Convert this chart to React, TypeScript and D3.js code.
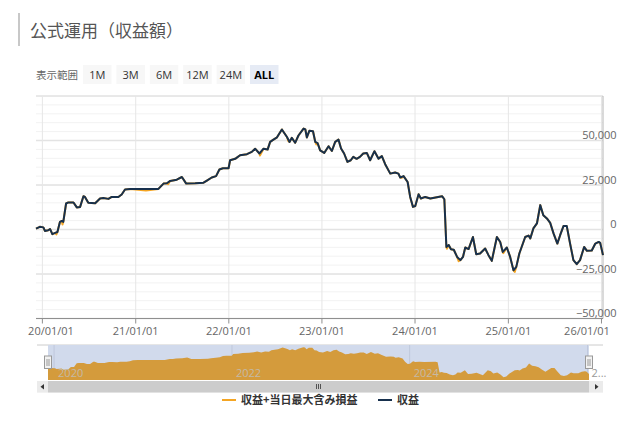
import React from "react";
import * as d3 from "d3";

const dates: string[] = [
  "2019-12-07","2019-12-22","2020-01-05","2020-01-11","2020-01-24","2020-01-31","2020-02-09","2020-02-20","2020-02-29","2020-03-10",
  "2020-03-17","2020-03-23","2020-04-03","2020-04-12","2020-05-02","2020-05-15","2020-05-28","2020-06-10","2020-06-16","2020-06-29",
  "2020-07-26","2020-08-14","2020-08-27","2020-09-16","2020-09-29","2020-10-25","2020-11-07","2020-11-20","2020-12-10","2021-03-31",
  "2021-04-20","2021-05-03","2021-05-16","2021-06-11","2021-07-01","2021-07-18","2021-08-22","2021-09-24","2021-10-07","2021-10-26",
  "2021-11-12","2021-11-25","2021-12-09","2021-12-31","2022-01-06","2022-01-26","2022-02-14","2022-03-13","2022-04-01","2022-04-14",
  "2022-05-01","2022-05-17","2022-06-02","2022-06-12","2022-06-25","2022-07-09","2022-07-28","2022-08-17","2022-08-27","2022-09-05",
  "2022-09-18","2022-10-01","2022-10-21","2022-10-28","2022-11-03","2022-11-13","2022-11-27","2022-12-06","2022-12-15","2022-12-25",
  "2023-01-10","2023-01-27","2023-02-09","2023-02-22","2023-03-07","2023-03-17","2023-03-29","2023-04-11","2023-04-24","2023-05-04",
  "2023-05-17","2023-05-30","2023-06-12","2023-06-26","2023-07-09","2023-07-26","2023-08-11","2023-08-24","2023-09-06","2023-09-26",
  "2023-10-15","2023-10-28","2023-11-04","2023-11-17","2023-12-03","2023-12-13","2023-12-24","2024-01-02","2024-01-15","2024-01-24",
  "2024-02-10","2024-03-01","2024-04-16","2024-04-25","2024-05-03","2024-05-12","2024-05-21","2024-06-01","2024-06-14","2024-06-27",
  "2024-07-07","2024-07-16","2024-07-29","2024-08-15","2024-08-28","2024-09-12","2024-10-02","2024-10-15","2024-10-28","2024-11-17",
  "2024-11-30","2024-12-10","2024-12-26","2025-01-08","2025-01-21","2025-02-01","2025-02-13","2025-03-08","2025-03-21","2025-03-28",
  "2025-04-09","2025-04-23","2025-05-06","2025-05-18","2025-06-01","2025-06-14","2025-06-27","2025-07-12","2025-07-23","2025-08-05",
  "2025-08-18","2025-08-31","2025-09-13","2025-09-26","2025-10-09","2025-10-25","2025-11-05","2025-11-24","2025-12-08","2025-12-21",
  "2025-12-27","2026-01-07",
];

const profit: number[] = [
  500,1500,1200,-800,-400,300,-2600,-1900,-1400,4300,
  4800,4300,14600,15200,15200,12400,12700,18700,18300,15000,
  14800,17400,17700,17200,18300,18300,19700,22500,22800,22800,
  25800,26000,27300,28000,29500,25800,26000,26300,27500,29200,
  30000,33700,34400,34400,38900,39700,41700,42300,43600,45400,
  42700,45400,44900,49200,50500,51800,56200,52000,49200,51500,
  48700,52800,56700,56200,51700,55500,55200,49200,48500,44500,
  43000,46800,44100,49200,50500,45500,42700,38000,38900,40800,
  39700,40800,42700,43000,38900,44000,39800,41200,36700,31400,
  32000,31400,29200,30000,26700,18300,12700,13200,19800,17400,
  18300,17400,18700,17000,-9800,-8700,-11100,-11400,-15400,-17200,
  -15400,-10100,-11000,-4200,-13900,-13500,-10700,-14400,-17600,-4200,
  -7000,-12600,-10100,-15400,-22900,-21000,-13500,-4200,-3400,-5000,
  600,3400,13700,8000,6200,3700,-2200,-7900,-3200,1900,
  1900,-7900,-17200,-19500,-17200,-9800,-12000,-11800,-7900,-7000,
  -7500,-14400,
];

// dates where 収益+当日最大含み損益 dips below 収益
const maxLossDates: string[] = ["2020-02-25","2020-03-20","2021-02-10","2021-05-08","2022-05-03","2022-08-22","2022-12-10","2023-11-10","2024-05-05","2024-06-20","2024-12-12","2025-01-26"];
const maxLossValues: number[] = [-2800,2800,21900,25500,41500,49700,47800,29000,-10800,-17800,-13300,-23800];

const yTicks: number[] = [-50000, -25000, 0, 25000, 50000, 75000];
const yLabelTicks: number[] = [-50000, -25000, 0, 25000, 50000];
const xTickYears: number[] = [2020, 2021, 2022, 2023, 2024, 2025, 2026];
const navTickYears: number[] = [2020, 2022, 2024, 2026];
const rangeButtons: string[] = ["1M", "3M", "6M", "12M", "24M", "ALL"];
const legendItems: string[] = ["収益+当日最大含み損益", "収益"];

const ORANGE = "#f4a523";
const NAVY = "#17304d";
const NUM_FONT = "'Open Sans', 'Noto Sans CJK JP', sans-serif";
const JP_FONT = "'Noto Sans CJK JP', 'Noto Sans', sans-serif";

export default function App() {
  const parse = d3.timeParse("%Y-%m-%d");
  const series = dates.map((d, i) => ({ date: parse(d) as Date, value: profit[i] }));
  const dips = maxLossDates.map((d, i) => ({ date: parse(d) as Date, value: maxLossValues[i] }));
  const orangeSeries = [...series, ...dips].sort((a, b) => +a.date - +b.date);
  const extent = d3.extent(series, (d) => d.date) as [Date, Date];

  const plotL = 36, plotR = 603, plotT = 96, plotB = 318.5;
  const x = d3.scaleTime().domain(extent).range([plotL, plotR]);
  const y = d3.scaleLinear().domain([-50000, 75000]).range([plotB, plotT]);
  const minorTicks = d3.range(-50000, 75001, 5000);

  const line = d3
    .line<{ date: Date; value: number }>()
    .x((d) => x(d.date))
    .y((d) => y(d.value));

  // navigator
  const navL = 48, navR = 589, navT = 345, navB = 380;
  const nx = d3.scaleTime().domain(extent).range([navL, navR]);
  const ny = d3.scaleLinear().domain([-30000, 57500]).range([navB, navT + 2]);
  const area = d3
    .area<{ date: Date; value: number }>()
    .x((d) => nx(d.date))
    .y0(navB)
    .y1((d) => ny(d.value));

  const fmt = d3.format(",");
  const yearDate = (yr: number) => new Date(yr, 0, 1);
  const labelHalf = 23;

  return (
    <div style={{ position: "absolute", left: 0, top: 0 }}>
      <svg width={638} height={432} style={{ display: "block", background: "#fff" }}>
        {/* title */}
        <rect x={18} y={13} width={2} height={33} fill="#c8c8c8" />
        <text x={30} y={37} fontFamily={JP_FONT} fontSize={17} fill="#555">
          公式運用（収益額）
        </text>

        {/* range selector */}
        <text x={36} y={79} fontFamily={JP_FONT} fontSize={10.5} fill="#666">
          表示範囲
        </text>
        {rangeButtons.map((b, i) => {
          const bx = 83 + i * 33.4;
          const sel = b === "ALL";
          return (
            <g key={b}>
              <rect x={bx} y={65} width={28.5} height={19} fill={sel ? "#e6ebf5" : "#f7f7f7"} />
              <text
                x={bx + 14.25}
                y={79}
                textAnchor="middle"
                fontFamily={NUM_FONT}
                fontSize={11}
                fontWeight={sel ? 700 : 400}
                fill={sel ? "#000" : "#333"}
              >
                {b}
              </text>
            </g>
          );
        })}

        {/* grid */}
        {minorTicks.map((t) => (
          <line key={"m" + t} x1={plotL} x2={plotR} y1={y(t)} y2={y(t)} stroke="#f2f2f2" strokeWidth={1} />
        ))}
        {yTicks.map((t) => (
          <line key={"M" + t} x1={plotL} x2={plotR} y1={y(t)} y2={y(t)} stroke="#e3e3e3" strokeWidth={1.5} />
        ))}
        {xTickYears.map((yr) => (
          <line
            key={"v" + yr}
            x1={x(yearDate(yr))}
            x2={x(yearDate(yr))}
            y1={plotT}
            y2={plotB}
            stroke="#e6e6e6"
            strokeWidth={1}
          />
        ))}

        {/* axes */}
        <line x1={plotR} x2={plotR} y1={plotT} y2={plotB} stroke="#b5b5b5" strokeWidth={1} />
        <line x1={plotL} x2={plotR} y1={plotB} y2={plotB} stroke="#8f8f8f" strokeWidth={1} />
        {xTickYears.map((yr) => {
          const tx = x(yearDate(yr));
          const cx = Math.min(Math.max(tx, 28 + labelHalf), 610 - labelHalf);
          return (
            <g key={"xt" + yr}>
              <line x1={tx} x2={tx} y1={plotB} y2={plotB + 5} stroke="#8f8f8f" />
              <text x={cx} y={335} textAnchor="middle" fontFamily={NUM_FONT} fontSize={11} fill="#666">
                {d3.timeFormat("%y/%m/%d")(yearDate(yr))}
              </text>
            </g>
          );
        })}
        {yLabelTicks.map((t) => (
          <text
            key={"yl" + t}
            x={616.5}
            y={y(t) - 1.5}
            textAnchor="end"
            fontFamily={NUM_FONT}
            fontSize={11}
            fill="#666"
          >
            {t === 0 ? "0" : fmt(t)}
          </text>
        ))}

        {/* series */}
        <path d={line(orangeSeries) || ""} fill="none" stroke={ORANGE} strokeWidth={2} strokeLinejoin="round" />
        <path d={line(series) || ""} fill="none" stroke={NAVY} strokeWidth={2} strokeLinejoin="round" />

        {/* navigator */}
        <line x1={37} x2={603} y1={navT} y2={navT} stroke="#cccccc" strokeWidth={1} />
        <rect x={navL} y={navT} width={navR - navL} height={navB - navT} fill="#d1daec" />
        {navTickYears.map((yr) => (
          <line
            key={"nv" + yr}
            x1={nx(yearDate(yr))}
            x2={nx(yearDate(yr))}
            y1={navT}
            y2={navB}
            stroke="#bfc8dc"
            strokeWidth={1}
          />
        ))}
        <path d={area(series) || ""} fill="#d49b3c" />
        {navTickYears.map((yr) => {
          const lx = nx(yearDate(yr)) + 4;
          const out = lx > navR;
          return (
            <text key={"nl" + yr} x={lx} y={377} fontFamily={NUM_FONT} fontSize={11} fill={out ? "#999" : "#c4b9a6"}>
              {out ? "2..." : String(yr)}
            </text>
          );
        })}
        {[navL, navR].map((hx, i) => (
          <g key={"h" + i}>
            <rect x={hx - 3.5} y={356} width={7} height={12.5} fill="#f2f2f2" stroke="#999" strokeWidth={1} />
            <line x1={hx - 1} x2={hx - 1} y1={359} y2={366} stroke="#999" />
            <line x1={hx + 1} x2={hx + 1} y1={359} y2={366} stroke="#999" />
          </g>
        ))}

        {/* scrollbar */}
        <rect x={37} y={381} width={566} height={11.5} fill="#f2f2f2" />
        <rect x={navL} y={381} width={navR - navL} height={11.5} fill="#cccccc" />
        <rect x={37} y={381} width={11} height={11.5} fill="#ebebeb" />
        <rect x={navR} y={381} width={14} height={11.5} fill="#ebebeb" />
        <path d="M44,384 L40.5,386.8 L44,389.5 Z" fill="#333" />
        <path d="M595,384 L598.5,386.8 L595,389.5 Z" fill="#333" />
        {[-2, 0, 2].map((o) => (
          <line key={"g" + o} x1={(navL + navR) / 2 + o} x2={(navL + navR) / 2 + o} y1={384} y2={389} stroke="#333" strokeWidth={0.8} />
        ))}

        {/* legend */}
        {legendItems.map((name, i) => {
          const lx = i === 0 ? 222 : 378;
          return (
            <g key={name}>
              <line x1={lx} x2={lx + 14} y1={400} y2={400} stroke={i === 0 ? ORANGE : NAVY} strokeWidth={2} />
              <text x={lx + 19} y={404} fontFamily={JP_FONT} fontSize={11} fontWeight={700} fill="#333">
                {name}
              </text>
            </g>
          );
        })}
      </svg>
    </div>
  );
}
